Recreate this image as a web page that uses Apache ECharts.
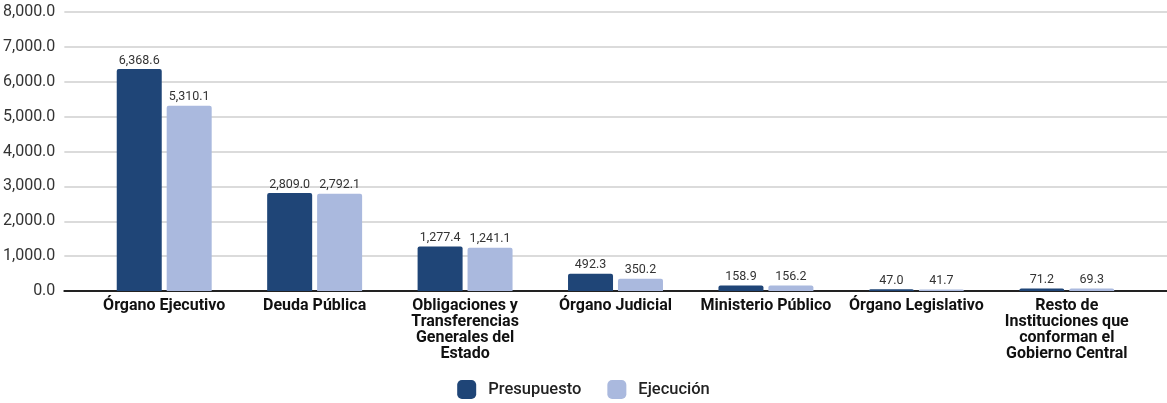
<!DOCTYPE html>
<html>
<head>
<meta charset="utf-8">
<script src="https://cdn.jsdelivr.net/npm/echarts@6/dist/echarts.min.js"></script>
<style>
  html, body { margin: 0; padding: 0; background: #fff; }
  #chart { width: 1167px; height: 403px; }
</style>
</head>
<body>
<div id="chart"></div>
<script>
// categorías del gráfico
var categorias = [
  'Órgano Ejecutivo',
  'Deuda Pública',
  'Obligaciones y\nTransferencias\nGenerales del\nEstado',
  'Órgano Judicial',
  'Ministerio Público',
  'Órgano Legislativo',
  'Resto de\nInstituciones que\nconforman el\nGobierno Central'
];
var presupuesto = [6368.6, 2809.0, 1277.4, 492.3, 158.9, 47.0, 71.2];
var ejecucion = [5310.1, 2792.1, 1241.1, 350.2, 156.2, 41.7, 69.3];
var yMin = 0, yMax = 8000, yPaso = 1000;

var fmt = new Intl.NumberFormat('en-US', { minimumFractionDigits: 1, maximumFractionDigits: 1 });

var myChart = echarts.init(document.getElementById('chart'));

var etiqueta = {
  show: true,
  position: 'top',
  distance: 2,
  color: '#333',
  fontSize: 12.5,
  fontFamily: 'Roboto',
  formatter: function (p) { return fmt.format(p.value); }
};

myChart.setOption({
  animation: false,
  textStyle: { fontFamily: 'Roboto' },
  grid: [
    { left: 62, right: 0, top: 12, bottom: 112 }, // rejilla de fondo
    { left: 89, right: 25, top: 12, bottom: 112 }  // barras
  ],
  legend: {
    bottom: 4,
    left: 'center',
    padding: 0,
    itemWidth: 19,
    itemHeight: 19,
    itemGap: 26,
    icon: 'roundRect',
    textStyle: { fontSize: 16.5, fontWeight: 500, color: '#222', padding: [0, 0, 0, 7] },
    data: ['Presupuesto', 'Ejecución']
  },
  xAxis: [
    {
      gridIndex: 0,
      type: 'value',
      min: 0,
      max: 1,
      axisLine: { show: true, onZero: false, lineStyle: { color: '#222', width: 2 } },
      axisTick: { show: false },
      axisLabel: { show: false },
      splitLine: { show: false }
    },
    {
      gridIndex: 1,
      type: 'category',
      data: categorias,
      axisLine: { show: false },
      axisTick: { show: false },
      axisLabel: {
        interval: 0,
        margin: 7,
        color: '#111',
        fontSize: 16,
        fontWeight: 'bold',
        lineHeight: 16,
        align: 'center'
      }
    }
  ],
  yAxis: [
    {
      gridIndex: 0,
      type: 'value',
      min: yMin,
      max: yMax,
      interval: yPaso,
      axisLine: { show: false },
      axisTick: { show: false },
      axisLabel: {
        color: '#333',
        fontSize: 16,
        margin: 9,
        formatter: function (v) { return fmt.format(v); }
      },
      splitLine: { lineStyle: { color: '#cfcfcf', width: 1.5 } }
    },
    {
      gridIndex: 1,
      type: 'value',
      min: yMin,
      max: yMax,
      interval: yPaso,
      show: false
    }
  ],
  series: [
    {
      name: 'Presupuesto',
      type: 'bar',
      xAxisIndex: 1,
      yAxisIndex: 1,
      data: presupuesto,
      barWidth: 45,
      barGap: '11%',
      itemStyle: { color: '#1f4577', borderRadius: [2, 2, 0, 0] },
      label: etiqueta
    },
    {
      name: 'Ejecución',
      type: 'bar',
      xAxisIndex: 1,
      yAxisIndex: 1,
      data: ejecucion,
      barWidth: 45,
      itemStyle: { color: '#aab9de', borderRadius: [2, 2, 0, 0] },
      label: etiqueta
    }
  ]
});
</script>
</body>
</html>
